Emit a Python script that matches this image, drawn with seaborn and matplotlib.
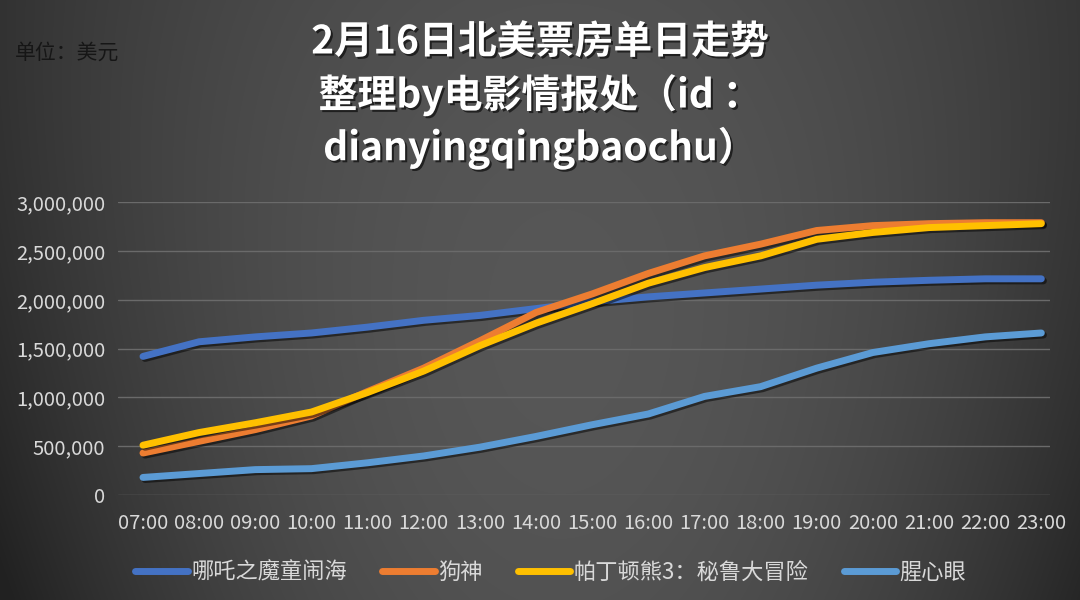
import matplotlib
matplotlib.use('Agg')
import matplotlib.pyplot as plt
import matplotlib.patheffects as pe
from matplotlib.lines import Line2D
from matplotlib.ticker import FuncFormatter, MultipleLocator
import seaborn as sns
import numpy as np
import pandas as pd

hours = ['07:00', '08:00', '09:00', '10:00', '11:00', '12:00', '13:00', '14:00', '15:00',
         '16:00', '17:00', '18:00', '19:00', '20:00', '21:00', '22:00', '23:00']
nezha = [1420000, 1570000, 1620000, 1660000, 1720000, 1790000, 1840000, 1910000, 1980000,
         2030000, 2070000, 2110000, 2150000, 2180000, 2200000, 2215000, 2215000]
gou_shen = [430000, 550000, 670000, 810000, 1060000, 1300000, 1580000, 1870000, 2060000,
            2270000, 2450000, 2570000, 2710000, 2760000, 2780000, 2790000, 2790000]
paddington = [510000, 640000, 740000, 850000, 1050000, 1270000, 1530000, 1760000, 1960000,
              2170000, 2330000, 2450000, 2620000, 2690000, 2740000, 2760000, 2780000]
xing_xin_yan = [180000, 220000, 260000, 270000, 330000, 400000, 490000, 600000, 720000,
                830000, 1010000, 1110000, 1300000, 1460000, 1550000, 1620000, 1660000]
series_names = ['哪吒之魔童闹海', '狗神', '帕丁顿熊3：秘鲁大冒险', '腥心眼']
colors = ['#4472C4', '#ED7D31', '#FFC000', '#5B9BD5']

df = pd.DataFrame({
    'hour': hours * 4,
    'x': list(range(len(hours))) * 4,
    'value': nezha + gou_shen + paddington + xing_xin_yan,
    'film': sum([[n] * len(hours) for n in series_names], []),
})

sns.set_theme(style='dark')
plt.rcParams['font.family'] = ['Noto Sans CJK SC', 'DejaVu Sans']

fig = plt.figure(figsize=(10.8, 6), dpi=100)

# grey vignette background
bg = fig.add_axes([0, 0, 1, 1], zorder=-10)
yy, xx = np.mgrid[0:600, 0:1080]
dx = (xx - 560) / 560.0
dy = (yy - 320) / 300.0
shade = 0.34 - 0.2 * dx ** 2 * (0.6 + 0.4 * yy / 600.0) - 0.02 * dy ** 2
shade = np.clip(shade, 0.13, 0.36)
bg.imshow(np.dstack([shade] * 3), aspect='auto', extent=[0, 1, 0, 1])
bg.axis('off')

ax = fig.add_axes([0.109, 0.175, 0.863, 0.488])
ax.set_facecolor('none')
sns.lineplot(data=df, x='x', y='value', hue='film', palette=colors, hue_order=series_names,
             linewidth=5, ax=ax, legend=False, sort=False)
for ln in ax.lines:
    ln.set_solid_capstyle('round')
    ln.set_path_effects([pe.SimpleLineShadow(offset=(1.5, -1.5), shadow_color='black', alpha=0.5),
                         pe.Normal()])

ax.set_xlim(-0.45, 16.15)
ax.set_ylim(0, 3000000)
ax.yaxis.set_major_locator(MultipleLocator(500000))
ax.yaxis.set_major_formatter(FuncFormatter(lambda v, p: f'{int(v):,}'))
ax.set_xticks(range(len(hours)))
ax.set_xticklabels(hours)
ax.grid(axis='y', color='#6a6a6a', linewidth=1)
ax.grid(axis='x', visible=False)
ax.set_axisbelow(True)
for s in ax.spines.values():
    s.set_visible(False)
ax.tick_params(axis='y', colors='#d9d9d9', labelsize=14.5, length=0, pad=9)
ax.tick_params(axis='x', colors='#d9d9d9', labelsize=14.5, length=0, pad=13)
ax.set_xlabel('')
ax.set_ylabel('')

shadow = [pe.withSimplePatchShadow(offset=(1.5, -1.5), shadow_rgbFace='black', alpha=0.6)]
title_lines = ['2月16日北美票房单日走势', '整理by电影情报处（id ：', 'dianyingqingbaochu）']
for i, t in enumerate(title_lines):
    fig.text(0.5, 1 - (42 + 53 * i) / 600, t, ha='center', va='center', color='white',
             fontsize=28, fontweight='bold', path_effects=shadow)

fig.text(0.014, 1 - 53 / 600, '单位：美元', ha='left', va='center', color='#161616', fontsize=15)

handles = [Line2D([0], [0], color=c, lw=5, solid_capstyle='round') for c in colors]
leg = fig.legend(handles, series_names, loc='center', bbox_to_anchor=(0.51, 1 - 572 / 600),
                 ncol=4, frameon=False, fontsize=16, handlelength=2.35, handletextpad=0.15,
                 columnspacing=1.6)
for txt in leg.get_texts():
    txt.set_color('#d9d9d9')

fig.savefig('out.png', dpi=100)
